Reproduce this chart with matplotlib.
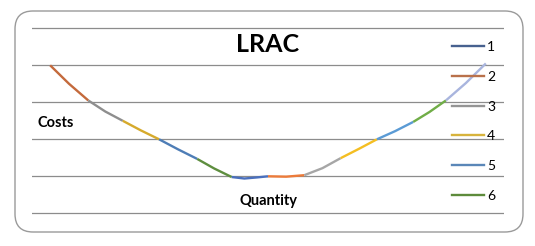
import matplotlib
matplotlib.use("Agg")
import matplotlib.pyplot as plt
from matplotlib.patches import FancyBboxPatch
from matplotlib.lines import Line2D

plt.rcParams['font.family'] = ['Lato', 'DejaVu Sans']

# points along the LRAC curve (quantity, cost)
quantity = [0.50, 1.02, 1.55, 2.02, 2.50, 3.00, 3.50, 4.02, 4.55, 5.02, 5.50, 5.85, 6.20,
            6.50, 7.00, 7.50, 8.00, 8.50, 9.00, 9.50, 10.00, 10.50, 10.95, 11.40, 11.95, 12.50]
cost = [4.00, 3.50, 3.05, 2.75, 2.50, 2.24, 2.00, 1.73, 1.47, 1.21, 0.98, 0.94, 0.97,
        1.00, 0.99, 1.03, 1.22, 1.49, 1.74, 2.00, 2.22, 2.47, 2.74, 3.05, 3.52, 4.05]
# indices where the line colour changes
knots = [0, 2, 4, 6, 8, 10, 13, 15, 17, 19, 21, 23, 25]
segment_colors = ['#C46A3C', '#8E8E8E', '#D6AA2C', '#4E7DB6', '#5E8E3F', '#4A70BE',
                  '#EC7B3A', '#A6A6A6', '#F4BE22', '#5B9BD5', '#70AD47', '#A9B5DE']

legend_labels = ['1', '2', '3', '4', '5', '6']
legend_colors = ['#47618F', '#B9714B', '#949494', '#D7B33C', '#5A87B8', '#5D8B3B']

fig = plt.figure(figsize=(5.35, 2.46), dpi=100)

# rounded outer frame (pixel-unit overlay axes)
bg = fig.add_axes([0, 0, 1, 1])
bg.set_xlim(0, 535)
bg.set_ylim(246, 0)
bg.axis('off')
bg.add_patch(FancyBboxPatch((15, 11), 508, 221, boxstyle="round,pad=0,rounding_size=18",
                            fc='white', ec='#9A9A9A', lw=1.0))

ax = fig.add_axes([32 / 535, (246 - 217) / 246, 472 / 535, 192.4 / 246])
ax.set_xlim(0, 13)
ax.set_ylim(-0.1, 5.1)
ax.patch.set_alpha(0)
for s in ax.spines.values():
    s.set_visible(False)
ax.set_xticks([])
ax.set_yticks(range(6))
ax.tick_params(length=0, labelleft=False)
ax.grid(axis='y', color='#8C8C8C', lw=0.9)

for i in range(len(knots) - 1):
    a, b = knots[i], knots[i + 1] + 1
    ax.plot(quantity[a:b], cost[a:b], color=segment_colors[i], lw=1.7,
            solid_capstyle='butt', clip_on=False)

handles = [Line2D([], [], color=c, lw=1.7) for c in legend_colors]
ax.legend(handles, legend_labels, loc='upper left', bbox_to_anchor=(452 / 535, 1 - 41 / 246),
          bbox_transform=fig.transFigure, frameon=False, fontsize=10, borderpad=0,
          handlelength=2.3, handletextpad=0.22, labelspacing=1.28, borderaxespad=0)

fig.text(0.5, 1 - 52 / 246, 'LRAC', ha='center', va='baseline', fontsize=18, fontweight='bold')
fig.text(37 / 535, 1 - 127 / 246, 'Costs', ha='left', va='baseline', fontsize=10.5, fontweight='bold')
fig.text(268 / 535, 1 - 205.5 / 246, 'Quantity', ha='center', va='baseline', fontsize=10.5,
         fontweight='bold')

fig.savefig('out.png', dpi=100, facecolor='white')
